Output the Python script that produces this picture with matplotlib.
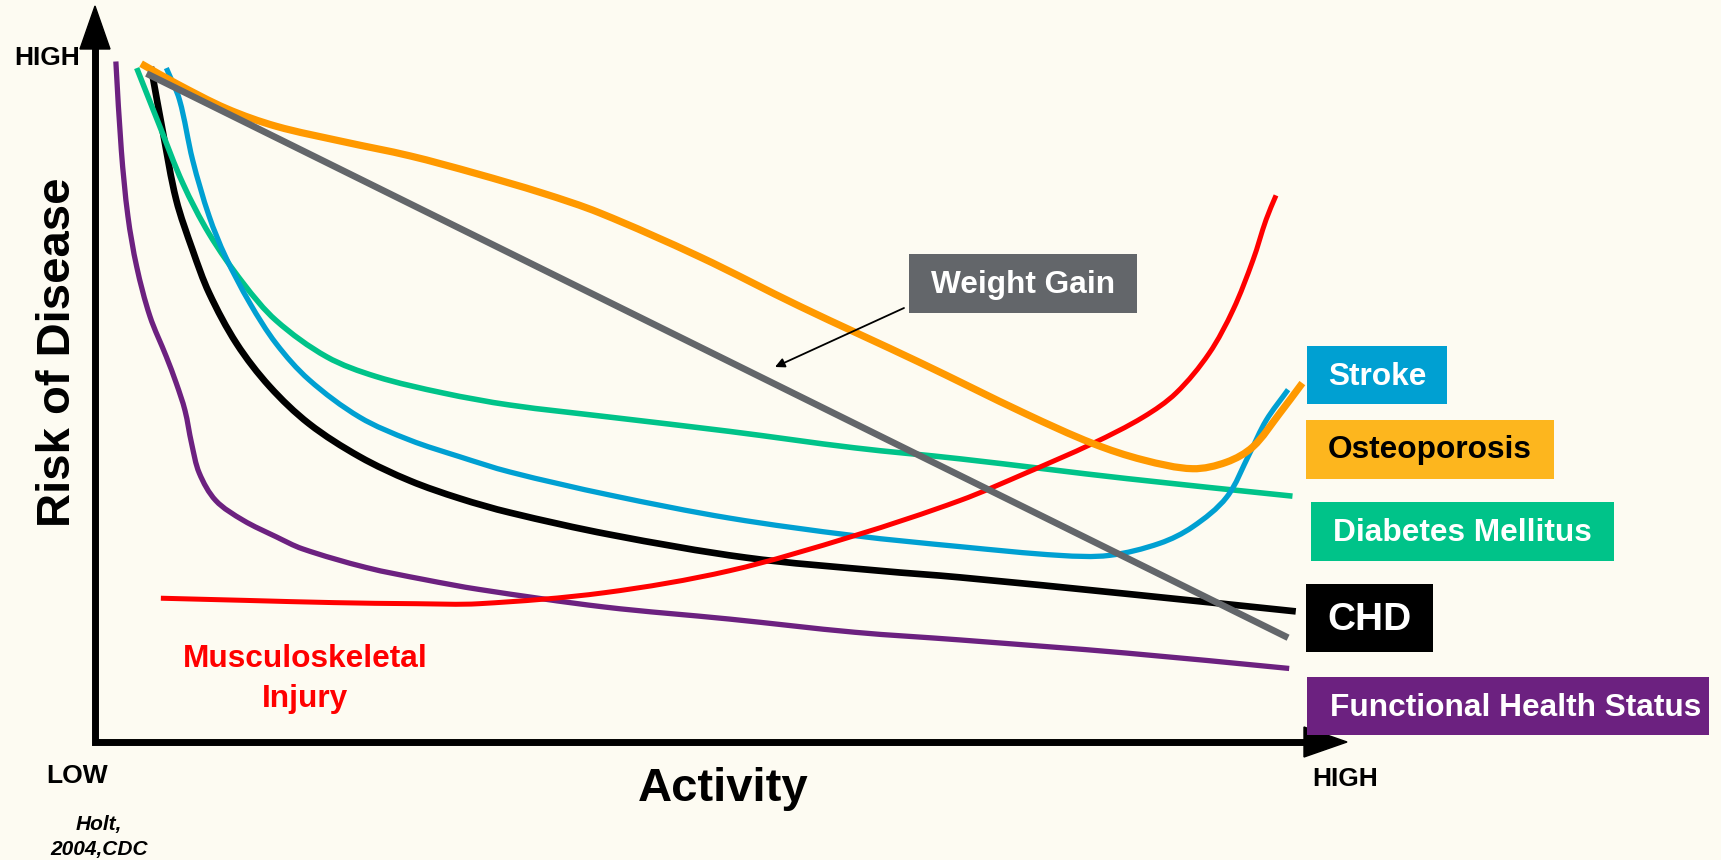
import matplotlib
matplotlib.use("Agg")
import numpy as np
import matplotlib.pyplot as plt
from matplotlib.patches import Rectangle, Polygon, PathPatch
from matplotlib.path import Path

W, H = 1721, 860
BG = "#FDFBF2"

# Activity level (x) versus relative risk (y) for each outcome
chd_activity = [5.1, 6.2, 7.4, 8.9, 10.4, 12.9, 15.9, 19.5, 24.1, 28.7, 33.2, 37.8, 46.9, 59.3, 71.5, 78.8,
                94.0, 109.4]
chd_risk = [61.5, 55.5, 49.4, 44.8, 40.9, 36.3, 32.4, 29.0, 26.0, 23.8, 22.2, 20.9, 18.9, 16.8, 15.6, 15.0,
            13.5, 11.9]

stroke_activity = [6.5, 7.7, 8.9, 10.4, 11.9, 14.1, 16.5, 19.5, 24.1, 28.7, 33.2, 37.8, 46.9, 57.8, 69.2,
                   78.8, 87.9, 92.4, 97.0, 100.0, 103.1, 105.2, 106.7, 108.7]
stroke_risk = [61.4, 58.5, 53.0, 47.9, 44.2, 40.0, 36.3, 33.0, 29.6, 27.5, 26.0, 24.6, 22.5, 20.4, 18.8,
               17.8, 17.0, 17.0, 18.1, 19.6, 22.3, 26.3, 29.3, 32.1]

diabetes_activity = [3.8, 5.9, 8.0, 10.4, 13.5, 16.5, 21.1, 25.6, 31.7, 37.8, 46.9, 57.8, 69.2, 78.8,
                     94.0, 109.1]
diabetes_risk = [61.4, 56.1, 50.9, 46.3, 41.8, 38.4, 35.1, 33.3, 31.8, 30.7, 29.6, 28.3, 26.8, 25.8,
                 24.0, 22.4]

osteo_activity = [4.2, 7.4, 12.0, 16.5, 22.6, 28.7, 34.7, 40.8, 46.0, 55.1, 64.2, 75.1, 84.8,
                  90.9, 95.5, 100.0, 103.1, 105.5, 107.9, 110.0]
osteo_risk = [61.8, 60.0, 57.7, 56.1, 54.7, 53.4, 51.8, 50.0, 48.2, 44.2, 39.7, 34.6, 29.9,
              27.2, 25.7, 24.9, 25.5, 26.9, 29.9, 32.7]

weight_activity = [4.7, 108.7]
weight_risk = [60.9, 9.5]

injury_activity = [6.0, 13.8, 21.7, 29.3, 35.0, 46.4, 57.8, 69.2, 78.8, 84.8, 90.9, 95.5, 98.5, 101.5,
                   103.7, 105.5, 106.7, 107.6]
injury_risk = [13.1, 12.9, 12.7, 12.6, 12.6, 13.6, 15.6, 18.8, 22.0, 24.5, 27.2, 29.6, 31.8, 35.4,
               39.4, 43.9, 47.6, 49.8]

functional_activity = [1.9, 2.4, 3.0, 3.8, 5.0, 6.5, 7.4, 8.2, 8.8, 9.5, 11.0, 13.5, 16.5, 18.9, 24.7,
                       30.0, 35.0, 46.4, 57.8, 69.2, 78.8, 94.0, 108.8]
functional_risk = [62.0, 53.9, 47.9, 43.3, 38.8, 35.1, 32.7, 30.2, 27.2, 24.5, 22.0, 20.2, 18.7, 17.6, 15.9,
                   14.8, 13.9, 12.3, 11.2, 10.0, 9.3, 8.1, 6.7]

PURPLE = "#6C2180"
BLUE = "#00A0D2"
GREEN = "#00C389"
ORANGE = "#FF9900"
ORANGE_BOX = "#FDB61E"
GREY = "#63666A"
RED = "#FF0000"

FONT = ["Liberation Sans", "DejaVu Sans"]


def smooth_path(xs, ys):
    """Cubic Bezier path through every point, tangents from chord lengths."""
    p = np.column_stack([xs, ys]).astype(float)
    n = len(p)
    if n < 3:
        return Path(p)
    d = np.hypot(*np.diff(p, axis=0).T)
    m = np.zeros_like(p)
    m[0] = (p[1] - p[0]) / d[0]
    m[-1] = (p[-1] - p[-2]) / d[-1]
    for i in range(1, n - 1):
        m[i] = (p[i + 1] - p[i - 1]) / (d[i - 1] + d[i])
    verts = [p[0]]
    codes = [Path.MOVETO]
    for i in range(n - 1):
        verts += [p[i] + m[i] * d[i] / 3, p[i + 1] - m[i + 1] * d[i] / 3, p[i + 1]]
        codes += [Path.CURVE4] * 3
    return Path(verts, codes)


fig = plt.figure(figsize=(W / 100, H / 100), dpi=100, facecolor=BG)

# Full-figure layer in pixel units for the frame
deco = fig.add_axes([0, 0, 1, 1], zorder=1)
deco.set_xlim(0, W)
deco.set_ylim(H, 0)
deco.axis("off")
deco.set_facecolor("none")

deco.plot([95, 95, 1306], [46, 742, 742], color="black", lw=5.0,
          solid_joinstyle="miter", solid_capstyle="butt")
deco.add_patch(Polygon([(80, 49), (110, 49), (95, 6)], closed=True, color="black"))
deco.add_patch(Polygon([(1304, 727), (1304, 757), (1347, 742)], closed=True, color="black"))

# Plot layer: origin at the arrow corner
ax = fig.add_axes([95 / W, (H - 742) / H, 114 * 10.976 / W, 67 * 10.976 / H], zorder=2)
ax.set_xlim(0, 114)
ax.set_ylim(0, 67)
ax.axis("off")
ax.set_facecolor("none")

curves = [
    (functional_activity, functional_risk, PURPLE, 3.8),
    (chd_activity, chd_risk, "black", 4.8),
    (diabetes_activity, diabetes_risk, GREEN, 4.0),
    (stroke_activity, stroke_risk, BLUE, 3.8),
    (injury_activity, injury_risk, RED, 3.6),
    (osteo_activity, osteo_risk, ORANGE, 5.2),
    (weight_activity, weight_risk, GREY, 4.8),
]
for z, (xs, ys, col, lw) in enumerate(curves):
    patch = PathPatch(smooth_path(xs, ys), facecolor="none", edgecolor=col, lw=lw,
                      capstyle="butt", joinstyle="round", zorder=z + 1, clip_on=False)
    ax.add_patch(patch)

# Text layer above the curves
top = fig.add_axes([0, 0, 1, 1], zorder=3)
top.set_xlim(0, W)
top.set_ylim(H, 0)
top.axis("off")
top.set_facecolor("none")


def label_box(x0, y0, x1, y1, text, fc, tc, size, baseline, tx=None):
    top.add_patch(Rectangle((x0, y0), x1 - x0, y1 - y0, facecolor=fc, edgecolor="none"))
    if tx is None:
        top.text((x0 + x1) / 2, baseline, text, ha="center", va="baseline", color=tc,
                 fontsize=size, fontweight="bold", family=FONT)
    else:
        top.text(tx, baseline, text, ha="left", va="baseline", color=tc,
                 fontsize=size, fontweight="bold", family=FONT)


label_box(1307, 346, 1447, 404, "Stroke", BLUE, "white", 22.8, 385)
label_box(1306, 420, 1554, 479, "Osteoporosis", ORANGE_BOX, "black", 22.8, 458)
label_box(1311, 502, 1614, 561, "Diabetes Mellitus", GREEN, "white", 22.8, 541)
label_box(1306, 584, 1433, 652, "CHD", "black", "white", 28, 630)
label_box(1307, 677, 1709, 735, "Functional Health Status", PURPLE, "white", 22.8, 716, tx=1330)
label_box(909, 254, 1137, 313, "Weight Gain", GREY, "white", 22.8, 293)

top.annotate("", xy=(775, 367), xytext=(904, 308),
             arrowprops=dict(arrowstyle="-|>", color="black", lw=1.3,
                             mutation_scale=14, shrinkA=0, shrinkB=0))

top.text(305, 667, "Musculoskeletal", ha="center", va="baseline", color=RED,
         fontsize=22.8, fontweight="bold", family=FONT)
top.text(305, 707, "Injury", ha="center", va="baseline", color=RED,
         fontsize=22.8, fontweight="bold", family=FONT)

top.text(70, 352, "Risk of Disease", rotation=90, rotation_mode="anchor", ha="center",
         va="baseline", fontsize=34, fontweight="bold", family=FONT, color="black")
top.text(723, 801, "Activity", ha="center", va="baseline", fontsize=34,
         fontweight="bold", family=FONT, color="black")

top.text(47, 65, "HIGH", ha="center", va="baseline", fontsize=19, fontweight="bold", family=FONT)
top.text(77, 783, "LOW", ha="center", va="baseline", fontsize=19, fontweight="bold", family=FONT)
top.text(1345, 786, "HIGH", ha="center", va="baseline", fontsize=19, fontweight="bold", family=FONT)

top.text(99, 830, "Holt,", ha="center", va="baseline", fontsize=15, fontweight="bold",
         fontstyle="italic", family=FONT)
top.text(99, 855, "2004,CDC", ha="center", va="baseline", fontsize=15, fontweight="bold",
         fontstyle="italic", family=FONT)

fig.savefig("out.png", dpi=100, facecolor=BG)
